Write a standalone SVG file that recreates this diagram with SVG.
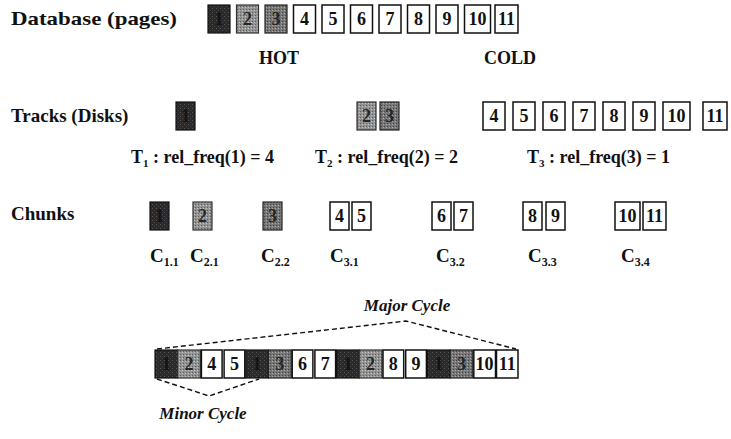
<svg xmlns="http://www.w3.org/2000/svg" width="731" height="439" viewBox="0 0 731 439">
  <defs>
    <!-- halftone-like stipple for the shaded (hot) pages -->
    <pattern id="stipDark" width="4" height="4" patternUnits="userSpaceOnUse">
      <rect width="4" height="4" fill="#2a2a2a"/>
      <rect x="0" y="0" width="1" height="1" fill="#555"/>
      <rect x="2" y="2" width="1" height="1" fill="#444"/>
    </pattern>
    <pattern id="stipLight" width="3" height="3" patternUnits="userSpaceOnUse">
      <rect width="3" height="3" fill="#939393"/>
      <rect x="0" y="0" width="1" height="1" fill="#5e5e5e"/>
      <rect x="2" y="1" width="1" height="1" fill="#c4c4c4"/>
    </pattern>
    <pattern id="stipMid" width="3" height="3" patternUnits="userSpaceOnUse">
      <rect width="3" height="3" fill="#777"/>
      <rect x="0" y="0" width="1" height="1" fill="#444"/>
      <rect x="2" y="1" width="1" height="1" fill="#aaa"/>
    </pattern>
  </defs>
  <style>
    .lbl { font-family: "Liberation Serif", "Times New Roman", serif; font-weight: bold; font-size: 19px; fill: #111; }
    .tag { font-family: "Liberation Serif", "Times New Roman", serif; font-weight: bold; font-size: 18px; fill: #111; }
    .cyc { font-family: "Liberation Serif", "Times New Roman", serif; font-weight: bold; font-style: italic; font-size: 17px; fill: #111; }
    .num { font-family: "Liberation Serif", "Times New Roman", serif; font-weight: bold; font-size: 18px; text-anchor: middle; fill: #111; }
    .pg { fill: #fff; stroke: #111; stroke-width: 1.5; }
    .h1 { fill: url(#stipDark); stroke: #111; stroke-width: 1.2; }
    .h2 { fill: url(#stipLight); stroke: #333; stroke-width: 1.2; }
    .h3 { fill: url(#stipMid); stroke: #222; stroke-width: 1.2; }
    .n1 { fill: #141414; }
    .n2 { fill: #262626; }
    .dash { fill: none; stroke: #111; stroke-width: 1.4; stroke-dasharray: 5 3; }
  </style>

  <!-- Row 1: database pages -->
  <g id="database">
    <text class="lbl" x="11" y="25" font-size="20" textLength="166" lengthAdjust="spacingAndGlyphs">Database (pages)</text>
    <rect class="h1" x="208" y="5" width="22" height="28"/><text class="num n1" x="219" y="25">1</text>
    <rect class="h2" x="236.5" y="5" width="22" height="28"/><text class="num n2" x="247.5" y="25">2</text>
    <rect class="h3" x="265" y="5" width="22" height="28"/><text class="num n2" x="276" y="25">3</text>
    <rect class="pg" x="293.5" y="5" width="22" height="28"/><text class="num" x="304.5" y="25">4</text>
    <rect class="pg" x="322" y="5" width="22" height="28"/><text class="num" x="333" y="25">5</text>
    <rect class="pg" x="350.5" y="5" width="22" height="28"/><text class="num" x="361.5" y="25">6</text>
    <rect class="pg" x="379" y="5" width="22" height="28"/><text class="num" x="390" y="25">7</text>
    <rect class="pg" x="407.5" y="5" width="22" height="28"/><text class="num" x="418.5" y="25">8</text>
    <rect class="pg" x="436" y="5" width="22" height="28"/><text class="num" x="447" y="25">9</text>
    <rect class="pg" x="464.5" y="5" width="26" height="28"/><text class="num" x="477.5" y="25">10</text>
    <rect class="pg" x="495" y="5" width="23" height="28"/><text class="num" x="506.5" y="25">11</text>
    <text class="tag" x="279" y="64" text-anchor="middle">HOT</text>
    <text class="tag" x="510" y="64" text-anchor="middle">COLD</text>
  </g>

  <!-- Row 2: tracks on disks -->
  <g id="tracks">
    <text class="lbl" x="11" y="122">Tracks (Disks)</text>
    <rect class="h1" x="176" y="102" width="19" height="28"/><text class="num n1" x="185.5" y="122">1</text>
    <rect class="h2" x="357" y="102" width="19" height="28"/><text class="num n2" x="366.5" y="122">2</text>
    <rect class="h3" x="380" y="102" width="19" height="28"/><text class="num n2" x="389.5" y="122">3</text>
    <rect class="pg" x="483" y="102" width="22" height="28"/><text class="num" x="494" y="122">4</text>
    <rect class="pg" x="513" y="102" width="22" height="28"/><text class="num" x="524" y="122">5</text>
    <rect class="pg" x="543" y="102" width="22" height="28"/><text class="num" x="554" y="122">6</text>
    <rect class="pg" x="573" y="102" width="22" height="28"/><text class="num" x="584" y="122">7</text>
    <rect class="pg" x="603" y="102" width="22" height="28"/><text class="num" x="614" y="122">8</text>
    <rect class="pg" x="633" y="102" width="22" height="28"/><text class="num" x="644" y="122">9</text>
    <rect class="pg" x="663" y="102" width="27" height="28"/><text class="num" x="676.5" y="122">10</text>
    <rect class="pg" x="703" y="102" width="24" height="28"/><text class="num" x="715" y="122">11</text>
    <text class="tag" x="131" y="163">T<tspan font-size="11" dy="4">1</tspan><tspan dy="-4"> : rel_freq(1) = 4</tspan></text>
    <text class="tag" x="315" y="163">T<tspan font-size="11" dy="4">2</tspan><tspan dy="-4"> : rel_freq(2) = 2</tspan></text>
    <text class="tag" x="527" y="163">T<tspan font-size="11" dy="4">3</tspan><tspan dy="-4"> : rel_freq(3) = 1</tspan></text>
  </g>

  <!-- Row 3: chunks -->
  <g id="chunks">
    <text class="lbl" x="11" y="220">Chunks</text>
    <rect class="h1" x="150" y="202" width="19" height="28"/><text class="num n1" x="159.5" y="222">1</text>
    <rect class="h2" x="193" y="202" width="19" height="28"/><text class="num n2" x="202.5" y="222">2</text>
    <rect class="h3" x="263" y="202" width="19" height="28"/><text class="num n2" x="272.5" y="222">3</text>
    <rect class="pg" x="330" y="202" width="19" height="28"/><text class="num" x="339.5" y="222">4</text>
    <rect class="pg" x="352" y="202" width="19" height="28"/><text class="num" x="361.5" y="222">5</text>
    <rect class="pg" x="432" y="202" width="19" height="28"/><text class="num" x="441.5" y="222">6</text>
    <rect class="pg" x="454" y="202" width="19" height="28"/><text class="num" x="463.5" y="222">7</text>
    <rect class="pg" x="523" y="202" width="19" height="28"/><text class="num" x="532.5" y="222">8</text>
    <rect class="pg" x="546" y="202" width="19" height="28"/><text class="num" x="555.5" y="222">9</text>
    <rect class="pg" x="615" y="202" width="25" height="28"/><text class="num" x="627.5" y="222">10</text>
    <rect class="pg" x="643" y="202" width="23" height="28"/><text class="num" x="654.5" y="222">11</text>
    <text class="lbl" x="150" y="262" font-size="20">C<tspan font-size="12" dy="4">1.1</tspan></text>
    <text class="lbl" x="190" y="262" font-size="20">C<tspan font-size="12" dy="4">2.1</tspan></text>
    <text class="lbl" x="261" y="262" font-size="20">C<tspan font-size="12" dy="4">2.2</tspan></text>
    <text class="lbl" x="330" y="262" font-size="20">C<tspan font-size="12" dy="4">3.1</tspan></text>
    <text class="lbl" x="436" y="262" font-size="20">C<tspan font-size="12" dy="4">3.2</tspan></text>
    <text class="lbl" x="528" y="262" font-size="20">C<tspan font-size="12" dy="4">3.3</tspan></text>
    <text class="lbl" x="621" y="262" font-size="20">C<tspan font-size="12" dy="4">3.4</tspan></text>
  </g>

  <!-- Row 4: broadcast schedule -->
  <g id="schedule">
    <rect class="h1" x="155" y="350" width="22.7" height="28"/><text class="num n1" x="166.3" y="370">1</text>
    <rect class="h2" x="177.7" y="350" width="22.7" height="28"/><text class="num n2" x="189" y="370">2</text>
    <rect class="pg" x="201.4" y="350" width="20.7" height="28"/><text class="num" x="211.7" y="370">4</text>
    <rect class="pg" x="224.1" y="350" width="20.7" height="28"/><text class="num" x="234.4" y="370">5</text>
    <rect class="h1" x="245.8" y="350" width="22.7" height="28"/><text class="num n1" x="257.1" y="370">1</text>
    <rect class="h3" x="268.5" y="350" width="22.7" height="28"/><text class="num n2" x="279.8" y="370">3</text>
    <rect class="pg" x="292.2" y="350" width="20.7" height="28"/><text class="num" x="302.5" y="370">6</text>
    <rect class="pg" x="314.9" y="350" width="20.7" height="28"/><text class="num" x="325.2" y="370">7</text>
    <rect class="h1" x="336.6" y="350" width="22.7" height="28"/><text class="num n1" x="347.9" y="370">1</text>
    <rect class="h2" x="359.3" y="350" width="22.7" height="28"/><text class="num n2" x="370.6" y="370">2</text>
    <rect class="pg" x="383" y="350" width="20.7" height="28"/><text class="num" x="393.3" y="370">8</text>
    <rect class="pg" x="405.7" y="350" width="20.7" height="28"/><text class="num" x="416" y="370">9</text>
    <rect class="h1" x="427.4" y="350" width="22.7" height="28"/><text class="num n1" x="438.7" y="370">1</text>
    <rect class="h3" x="450.1" y="350" width="22.7" height="28"/><text class="num n2" x="461.4" y="370">3</text>
    <rect class="pg" x="473.8" y="350" width="21.7" height="28"/><text class="num" x="484.6" y="370">10</text>
    <rect class="pg" x="496.5" y="350" width="21.5" height="28"/><text class="num" x="507.2" y="370">11</text>
    <text class="cyc" x="407" y="311" text-anchor="middle">Major Cycle</text>
    <text class="cyc" x="203" y="419" text-anchor="middle">Minor Cycle</text>
  </g>

  <!-- Cycle brackets -->
  <g id="connectors">
    <polyline class="dash" points="157,349 406,321 516,349"/>
    <polyline class="dash" points="157,379 209,396 259,379"/>
  </g>
</svg>
